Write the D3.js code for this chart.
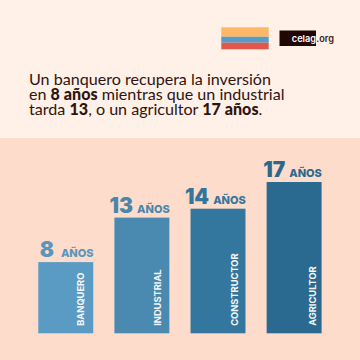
<!DOCTYPE html>
<html>
<head>
<meta charset="utf-8">
<script src="https://cdn.jsdelivr.net/npm/d3@7"></script>
<style>
  html, body { margin: 0; padding: 0; background: #fff1e7; }
  svg { display: block; }
  text { font-family: Inter, Roboto, sans-serif; }
</style>
</head>
<body>
<div id="chart"></div>
<script>
const categories = ['BANQUERO', 'INDUSTRIAL', 'CONSTRUCTOR', 'AGRICULTOR'];
const years = [8, 13, 14, 17];
const barColors = ['#5a9bc4', '#4a89b0', '#33779f', '#2a6a90'];
const labelColors = ['#5a95bb', '#4a86ab', '#33759d', '#2a688d'];
const flagColors = ['#fdb768', '#559cc6', '#e3564a'];
const flagShares = [0.43, 0.27, 0.30];

// [text, bold] runs per line
const titleLines = [
    [['Un banquero recupera la inversión', false]],
    [['en ', false], ['8 años', true], [' mientras que un industrial', false]],
    [['tarda ', false], ['13', true], [', o un agricultor ', false], ['17 años', true], ['.', false]]
];

// names don't sit at the same spot in every bar
const nameInset = [46, 47, 47.4, 49];

const svg = d3.select('#chart').append('svg')
    .attr('width', 360)
    .attr('height', 360);

svg.append('rect').attr('width', 360).attr('height', 360).attr('fill', '#fff1e7');
svg.append('rect').attr('y', 138).attr('width', 360).attr('height', 222).attr('fill', '#fddccb');

// flag
let flagY = 27.3;
flagColors.forEach((c, i) => {
    const h = 22 * flagShares[i];
    svg.append('rect').attr('x', 221.3).attr('y', flagY).attr('width', 47.4).attr('height', h).attr('fill', c);
    flagY += h;
});

// logo
svg.append('rect').attr('x', 279.5).attr('y', 30.5).attr('width', 36.5).attr('height', 15.5).attr('fill', '#210604');
svg.append('text').attr('x', 316).attr('y', 41.7).attr('text-anchor', 'end')
    .attr('font-size', 9.2).attr('font-weight', 600).attr('fill', '#fff').text('celag');
svg.append('text').attr('x', 316.3).attr('y', 41.7)
    .attr('font-size', 9.2).attr('font-weight', 600).attr('fill', '#3a2220').text('.org');

// title
const title = svg.append('text').attr('fill', '#2e1412');
titleLines.forEach((runs, i) => {
    const line = title.append('tspan').attr('x', 29).attr('y', 84.5 + i * 15.4);
    runs.forEach(r => {
        line.append('tspan')
            .attr('font-family', 'Lato')
            .attr('font-size', 16.1)
            .attr('font-weight', r[1] ? 900 : 400)
            .text(r[0]);
    });
});

const x = d3.scaleBand()
    .domain(categories)
    .range([38.3, 321.6])
    .paddingInner(0.278);

const y = d3.scaleLinear()
    .domain([0, 17])
    .range([333.3, 182]);

const bars = svg.selectAll('.bar')
    .data(categories)
    .enter()
    .append('g')
    .attr('class', 'bar');

bars.append('rect')
    .attr('x', d => x(d))
    .attr('y', (d, i) => y(years[i]))
    .attr('width', x.bandwidth())
    .attr('height', (d, i) => y(0) - y(years[i]))
    .attr('fill', (d, i) => barColors[i]);

// rotated category names, reading bottom to top
bars.append('text')
    .attr('transform', (d, i) => `translate(${x(d) + nameInset[i]},${y(0) - 7.5}) rotate(-90)`)
    .attr('font-size', 9.3)
    .attr('font-weight', 700)
    .attr('fill', '#f4f6f4')
    .text(d => d);

// value labels, flush with the bar's right edge
const valueLabel = bars.append('text')
    .attr('x', d => x(d) + x.bandwidth() + 0.3)
    .attr('y', (d, i) => y(years[i]) - 5)
    .attr('text-anchor', 'end')
    .attr('fill', (d, i) => labelColors[i]);

valueLabel.append('tspan')
    .attr('font-size', 21)
    .attr('font-weight', 900)
    .text((d, i) => years[i]);

valueLabel.append('tspan')
    .attr('dx', (d, i) => i === 0 ? 7 : 4)
    .attr('font-size', 11)
    .attr('font-weight', 800)
    .text('AÑOS');
</script>
</body>
</html>
